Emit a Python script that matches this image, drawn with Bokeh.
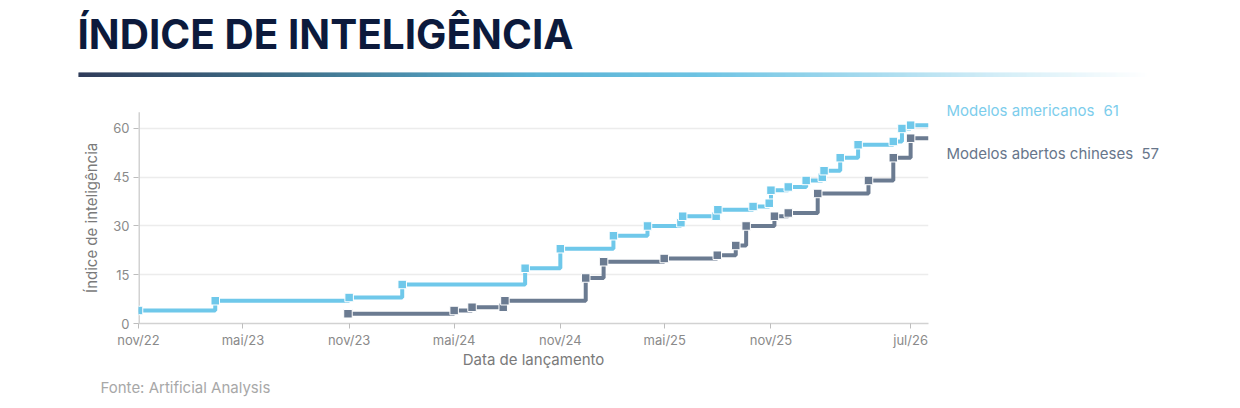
import math
import pandas as pd
from bokeh.plotting import figure
from bokeh.layouts import column, row
from bokeh.models import Range1d, FixedTicker
from bokeh.core.properties import value
from bokeh.embed import file_html
from bokeh.resources import INLINE

# ---------------- data ----------------
title_text = "ÍNDICE DE INTELIGÊNCIA"
source_text = "Fonte: Artificial Analysis"
x_label = "Data de lançamento"
y_label = "Índice de inteligência"

us_name = "Modelos americanos"
us_dates = ["2022-11-01", "2023-03-14", "2023-11-01", "2024-02-01", "2024-09-01",
            "2024-11-01", "2025-02-01", "2025-04-01", "2025-05-29", "2025-06-01",
            "2025-07-29", "2025-08-01", "2025-10-01", "2025-10-29", "2025-11-01",
            "2025-12-01", "2026-01-01", "2026-01-29", "2026-02-01", "2026-03-01",
            "2026-04-01", "2026-06-01", "2026-06-16", "2026-07-01"]
us_values = [4, 7, 8, 12, 17, 23, 27, 30, 31, 33, 33, 35, 36, 37, 41, 42, 44, 45, 47,
             51, 55, 56, 60, 61]

cn_name = "Modelos abertos chineses"
cn_dates = ["2023-10-30", "2024-05-01", "2024-06-01", "2024-07-25", "2024-07-28",
            "2024-12-15", "2025-01-15", "2025-04-30", "2025-07-31", "2025-09-01",
            "2025-09-19", "2025-11-07", "2025-12-01", "2026-01-21", "2026-04-19",
            "2026-06-01", "2026-07-01"]
cn_values = [3, 4, 5, 5, 7, 14, 19, 20, 21, 24, 30, 33, 34, 40, 44, 51, 57]

x_start, x_end = "2022-11-01", "2026-08-01"
x_tick_dates = ["2022-11-01", "2023-05-01", "2023-11-01", "2024-05-01",
                "2024-11-01", "2025-05-01", "2025-11-01", "2026-07-01"]
x_tick_labels = ["nov/22", "mai/23", "nov/23", "mai/24", "nov/24", "mai/25",
                 "nov/25", "jul/26"]
y_ticks = [0, 15, 30, 45, 60]
y_max = 65

# ---------------- styles ----------------
US_COLOR = "#6fc8ea"
CN_COLOR = "#6b7b91"
US_TEXT = "#7ccdec"
CN_TEXT = "#67768b"
AXIS_COLOR = "#d2d2d2"
FONT = "Inter"
W = 1240


def ms(d):
    return pd.Timestamp(d).value / 1e6


def blank(w, h, xr, yr):
    f = figure(width=w, height=h, x_range=Range1d(*xr), y_range=Range1d(*yr),
               output_backend="svg", toolbar_location=None, min_border=0)
    f.axis.visible = False
    f.grid.visible = False
    f.outline_line_color = None
    f.background_fill_color = "white"
    f.border_fill_color = "white"
    return f


# ---------------- header (page coordinates) ----------------
HDR_H = 92
hdr = blank(W, HDR_H, (0, W), (HDR_H, 0))
hdr.text(x=[77], y=[34], text=[title_text], text_font=value(FONT),
         text_font_style="bold", text_font_size="40.5px", text_color="#0c1a3c",
         text_baseline="middle", text_align="left")

stops = [(78, (11, 26, 61)), (300, (31, 90, 120)), (530, (61, 164, 204)),
         (700, (85, 185, 222)), (850, (143, 209, 234)), (1000, (205, 235, 246)),
         (1148, (255, 255, 255))]
seg_x0, seg_x1, seg_c = [], [], []
for (xa, ca), (xb, cb) in zip(stops[:-1], stops[1:]):
    n = int(xb - xa)
    for i in range(n):
        t = i / n
        c = tuple(int(round(ca[k] + (cb[k] - ca[k]) * t)) for k in range(3))
        seg_x0.append(xa + i)
        seg_x1.append(xa + i + 1.2)
        seg_c.append("#%02x%02x%02x" % c)
hdr.quad(left=seg_x0, right=seg_x1, top=[72] * len(seg_x0), bottom=[76.5] * len(seg_x0),
         fill_color=seg_c, line_color=None)

# ---------------- main chart ----------------
LEFT_W = 100
MAIN_W, MAIN_H = 938 - LEFT_W, 280
BB = 49
FRAME_TOP, FRAME_BOT = HDR_H, HDR_H + MAIN_H - BB     # page px of frame
AXIS_TOP = 111.7                                       # page px where y = y_max
y_top = y_max * (FRAME_BOT - FRAME_TOP) / (FRAME_BOT - AXIS_TOP)

p = figure(width=MAIN_W, height=MAIN_H, x_axis_type="datetime",
           x_range=Range1d(ms(x_start), ms(x_end)), y_range=Range1d(0, y_top),
           output_backend="svg", toolbar_location=None,
           min_border_left=138 - LEFT_W, min_border_right=10, min_border_top=0,
           min_border_bottom=BB)
p.outline_line_color = None
p.background_fill_color = "white"
p.border_fill_color = "white"

p.xgrid.visible = False
p.ygrid.ticker = FixedTicker(ticks=y_ticks[1:])
p.ygrid.grid_line_color = "#ececec"
p.ygrid.grid_line_width = 1.5

p.yaxis.ticker = FixedTicker(ticks=y_ticks)
p.xaxis.ticker = FixedTicker(ticks=[ms(d) for d in x_tick_dates])
p.xaxis.major_label_overrides = {ms(d): lab for d, lab in zip(x_tick_dates, x_tick_labels)}

for ax in (p.xaxis, p.yaxis):
    ax.axis_line_color = AXIS_COLOR
    ax.axis_line_width = 1.5
    ax.major_tick_line_color = "#bdbdbd"
    ax.major_tick_in = 0
    ax.major_tick_out = 5
    ax.minor_tick_line_color = None
    ax.major_label_text_font = FONT
    ax.major_label_text_font_size = "13px"
    ax.major_label_text_color = "#8a8a8a"
    ax.axis_label_text_font = FONT
    ax.axis_label_text_font_size = "15px"
    ax.axis_label_text_font_style = "normal"
    ax.axis_label_text_color = "#7a7a7a"
p.yaxis.axis_line_color = None
p.segment(x0=[ms(x_start)], y0=[0], x1=[ms(x_start)], y1=[y_max],
          line_color=AXIS_COLOR, line_width=3)
p.xaxis.axis_label = x_label
p.xaxis.major_label_standoff = 3
p.xaxis.axis_label_standoff = -1
p.yaxis.major_label_standoff = 4

for dates, vals, col in ((cn_dates, cn_values, CN_COLOR), (us_dates, us_values, US_COLOR)):
    xs = [ms(d) for d in dates]
    p.step(x=xs + [ms(x_end)], y=vals + [vals[-1]], mode="after",
           line_color=col, line_width=4)
    p.scatter(x=xs, y=vals, marker="square", size=8.5, fill_color=col,
              line_color="white", line_width=1)

# ---------------- y-axis title (left strip; frame aligns with main frame) ----------------
left = blank(LEFT_W, MAIN_H, (0, LEFT_W), (FRAME_BOT, FRAME_TOP))
left.text(x=[91], y=[(AXIS_TOP + FRAME_BOT) / 2], text=[y_label], angle=math.pi / 2,
          text_font=value(FONT), text_font_size="15px", text_color="#7a7a7a",
          text_baseline="middle", text_align="center")

# ---------------- legend (end labels) ----------------
leg = blank(W - 938, MAIN_H, (938, W), (FRAME_BOT, FRAME_TOP))
for xx, yy, txt, colr in ((946, 110, us_name, US_TEXT),
                          (1103, 110, str(us_values[-1]), US_TEXT),
                          (946, 153, cn_name, CN_TEXT),
                          (1141, 153, str(cn_values[-1]), CN_TEXT)):
    leg.text(x=[xx], y=[yy], text=[txt], text_font=value(FONT), text_font_size="15px",
             text_color=colr, text_baseline="middle", text_align="left")

# ---------------- footer ----------------
FT_H = 36
ft = blank(W, FT_H, (0, W), (FT_H, 0))
ft.text(x=[100], y=[15], text=[source_text], text_font=value(FONT),
        text_font_size="15px", text_color="#a8a8a8",
        text_baseline="middle", text_align="left")

layout = column(hdr, row(left, p, leg), ft)
open("out.html", "w").write(file_html(layout, INLINE))
